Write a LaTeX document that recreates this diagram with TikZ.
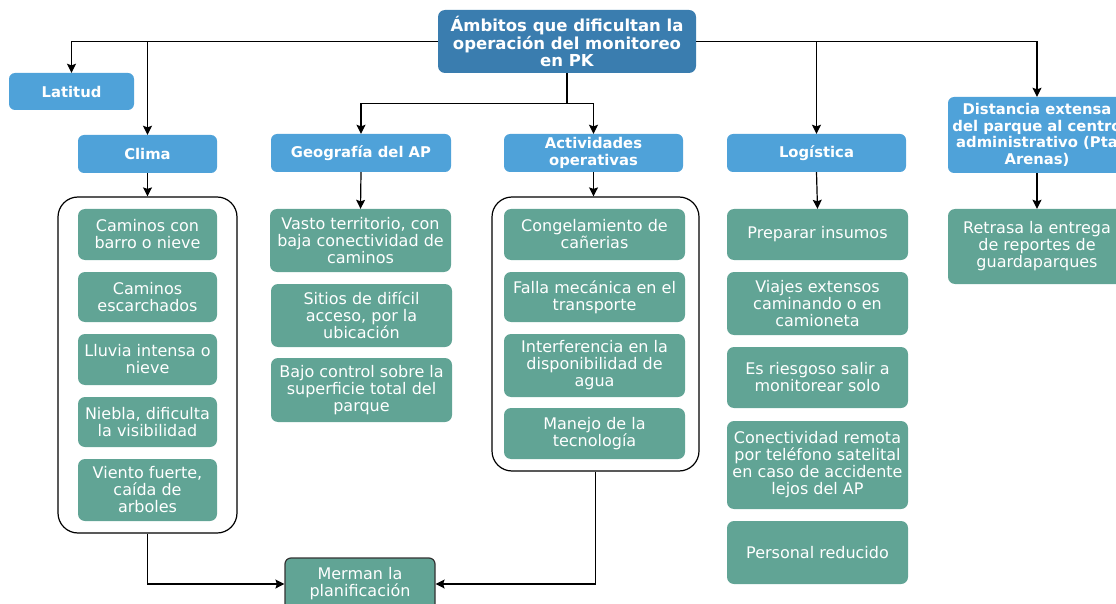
\documentclass[tikz,border=0pt]{standalone}
\usepackage{fontspec}
\setmainfont{DejaVu Sans}
\usetikzlibrary{arrows.meta}
\definecolor{tealbox}{RGB}{97,164,149}
\definecolor{lightblue}{RGB}{79,162,217}
\definecolor{rootblue}{RGB}{58,125,175}
\newcommand\bx[7]{\node[#1, minimum width={#5-#3}, minimum height={#6-#4}] (#2) at ({(#3+#5)/2},{(#4+#6)/2}) {#7};}
\begin{document}
\begin{tikzpicture}[x=1pt,y=-1pt,
  rootbox/.style={fill=rootblue, rounded corners=7pt, text=white, align=center, inner sep=0pt, font=\bfseries\fontsize{16.5}{17.5}\selectfont},
  headbox/.style={fill=lightblue, rounded corners=6pt, text=white, align=center, inner sep=0pt, font=\bfseries\fontsize{14.8}{16.5}\selectfont},
  itembox/.style={fill=tealbox, rounded corners=7pt, text=white, align=center, inner sep=0pt, font=\fontsize{16}{17}\selectfont},
  groupbox/.style={draw=black, line width=1.2pt, rounded corners=20pt, inner sep=0pt},
  resultbox/.style={fill=tealbox, draw=black!80, line width=1.2pt, rounded corners=6pt, text=white, align=center, inner sep=0pt, font=\fontsize{16}{17}\selectfont},
  link/.style={draw=black, line width=1.2pt},
  arr/.style={link, -{Stealth[length=9pt,width=9pt,inset=1.5pt]}}
]
\useasboundingbox (0,0) rectangle (1116,604);

% root and headers
\bx{rootbox}{root}{438}{10}{696}{73}{Ámbitos que dificultan la\\operación del monitoreo\\en PK}
\bx{headbox}{lat}{9}{73}{134}{110}{Latitud}
\bx{headbox}{clima}{78}{135}{217}{173}{Clima}
\bx{headbox}{geo}{271}{134}{451}{172}{Geografía del AP}
\bx{headbox}{act}{504}{134}{683}{172}{Actividades\\operativas}
\bx{headbox}{log}{727}{134}{906}{172}{Logística}
\bx{headbox}{dist}{948}{97}{1126}{173}{Distancia extensa\\del parque al centro\\administrativo (Pta\\Arenas)}

% group containers
\bx{groupbox}{cg}{58}{197}{237}{533}{}
\bx{groupbox}{ag}{492}{197}{699}{471}{}

% Clima items
\bx{itembox}{c1}{78}{209}{217}{260}{Caminos con\\barro o nieve}
\bx{itembox}{c2}{78}{272}{217}{322}{Caminos\\escarchados}
\bx{itembox}{c3}{78}{334}{217}{385}{Lluvia intensa o\\nieve}
\bx{itembox}{c4}{78}{397}{217}{447}{Niebla, dificulta\\la visibilidad}
\bx{itembox}{c5}{78}{459}{217}{521}{Viento fuerte,\\caída de\\arboles}

% Geografia items
\bx{itembox}{g1}{270}{209}{451}{272}{Vasto territorio, con\\baja conectividad de\\caminos}
\bx{itembox}{g2}{271}{284}{452}{347}{Sitios de difícil\\acceso, por la\\ubicación}
\bx{itembox}{g3}{271}{358}{452}{422}{Bajo control sobre la\\superficie total del\\parque}

% Actividades items
\bx{itembox}{a1}{504}{209}{685}{260}{Congelamiento de\\cañerias}
\bx{itembox}{a2}{504}{272}{685}{322}{Falla mecánica en el\\transporte}
\bx{itembox}{a3}{504}{334}{685}{397}{Interferencia en la\\disponibilidad de\\agua}
\bx{itembox}{a4}{504}{408}{685}{459}{Manejo de la\\tecnología}

% Logistica items
\bx{itembox}{l1}{727}{209}{908}{260}{Preparar insumos}
\bx{itembox}{l2}{727}{272}{908}{335}{Viajes extensos\\caminando o en\\camioneta}
\bx{itembox}{l3}{727}{347}{908}{408}{Es riesgoso salir a\\monitorear solo}
\bx{itembox}{l4}{727}{421}{908}{509}{Conectividad remota\\por teléfono satelital\\en caso de accidente\\lejos del AP}
\bx{itembox}{l5}{727}{521}{908}{584}{Personal reducido}

% Distancia item
\bx{itembox}{d1}{948}{209}{1126}{284}{Retrasa la entrega\\de reportes de\\guardaparques}

% result
\bx{resultbox}{mer}{285}{558}{435}{610}{Merman la\\planificación}

% connectors from root
\draw[arr] (root.west) -| (lat.north);
\draw[arr] (root.west -| clima.north) -- (clima.north);
\draw[arr] (root.east) -| (dist.north);
\draw[arr] (root.east -| log.north) -- (log.north);
\draw[link] (root.south) -- ++(0,30) coordinate (j);
\draw[arr] (j) -| (geo.north);
\draw[arr] (j) -| (act.north);

% headers to contents
\draw[arr] (clima.south) -- (cg.north);
\draw[arr] (geo.south) -- (g1.north);
\draw[arr] (act.south) -- (act.south |- ag.north);
\draw[arr] (log.south) -- (l1.north);
\draw[arr] (dist.south) -- (d1.north);

% to result
\draw[arr] (cg.south) |- (mer.west);
\draw[arr] (ag.south) |- (mer.east);
\end{tikzpicture}
\end{document}
